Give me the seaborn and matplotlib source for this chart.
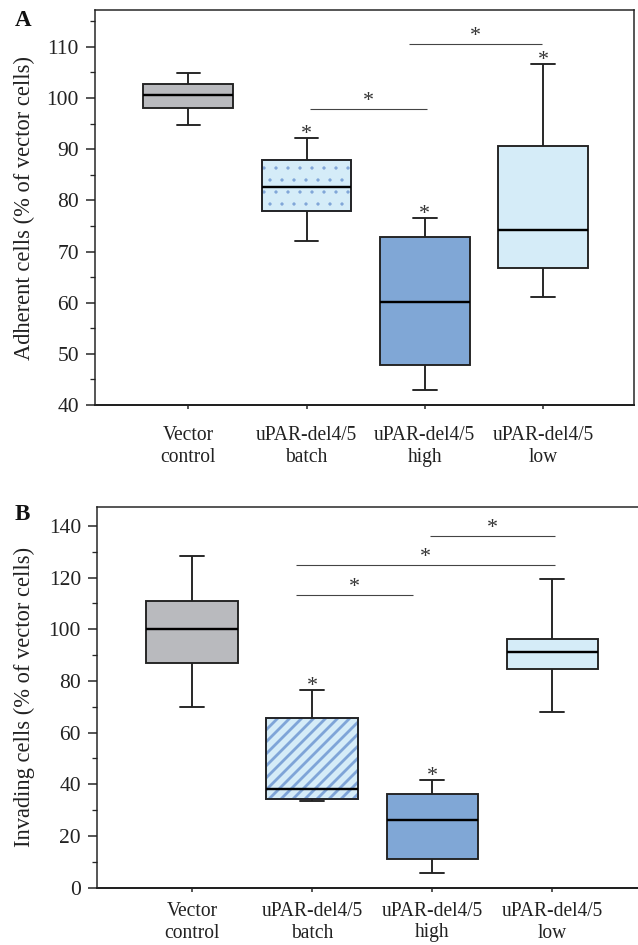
import numpy as np
import pandas as pd
import matplotlib
matplotlib.use("Agg")
import matplotlib.pyplot as plt
import seaborn as sns
from matplotlib.patches import PathPatch
from matplotlib.ticker import MultipleLocator

# ---------------- data (five-number summaries) ----------
groups = ["Vector\ncontrol", "uPAR-del4/5\nbatch", "uPAR-del4/5\nhigh", "uPAR-del4/5\nlow"]

# min, Q1, median, Q3, max
adh_vector = [94.8, 98.0, 100.5, 102.7, 104.9]
adh_batch = [72.1, 78.0, 82.7, 87.8, 92.2]
adh_high = [43.0, 47.8, 60.1, 72.9, 76.5]
adh_low = [61.2, 66.7, 74.3, 90.7, 106.7]

inv_vector = [70.0, 87.1, 100.1, 110.9, 128.4]
inv_batch = [33.6, 34.4, 38.1, 65.8, 76.5]
inv_high = [5.8, 11.1, 26.3, 36.4, 41.6]
inv_low = [67.9, 84.8, 91.2, 96.3, 119.6]

# significance brackets: (x_start, x_end, y)
adh_brackets = [(1.03, 2.02, 97.8), (1.87, 2.99, 110.6)]
inv_brackets = [(0.87, 1.84, 113.4), (0.87, 3.02, 124.8), (1.98, 3.02, 136.0)]
# groups with an asterisk over the upper whisker
adh_star_groups = [1, 2, 3]
inv_star_groups = [1, 2]

adh_label = "Adherent cells (% of vector cells)"
inv_label = "Invading cells (% of vector cells)"
adh_ticks = [40, 50, 60, 70, 80, 90, 100, 110]
inv_ticks = [0, 20, 40, 60, 80, 100, 120, 140]

box_colors = ["#b9babe", "#d5ecf8", "#80a7d6", "#d5ecf8"]
hatch_blue = "#7fa5d8"
edge = "#222222"

sns.set_theme(style="white")
plt.rcParams["font.family"] = ["Liberation Serif", "DejaVu Serif"]
plt.rcParams["hatch.linewidth"] = 2.6

W, H, DPI = 638, 945, 72
fig = plt.figure(figsize=(W / DPI, H / DPI), dpi=DPI)
fig.patch.set_facecolor("white")

ax_a = fig.add_axes([95 / W, 1 - 405 / H, (634 - 95) / W, (405 - 10) / H])
ax_b = fig.add_axes([97 / W, 1 - 887.7 / H, (645 - 97) / W, (887.7 - 506.7) / H])


def make_df(vals):
    rows = []
    for g, v in zip(groups, vals):
        for x in v:
            rows.append({"group": g, "value": x})
    return pd.DataFrame(rows)


def draw(ax, vals, ylim, ticks, minor, label, brackets, star_groups, hatch,
         hatch_lw, xpad, label_x):
    df = make_df(vals)
    sns.boxplot(data=df, x="group", y="value", hue="group", order=groups,
                hue_order=groups, palette=box_colors, saturation=1,
                whis=(0, 100), width=0.76, linewidth=1.9, linecolor=edge,
                showfliers=False, legend=False, ax=ax,
                medianprops={"color": "black", "linewidth": 2.4})
    # caps narrower
    for ln in ax.lines:
        xd = np.asarray(ln.get_xdata(), dtype=float)
        yd = np.asarray(ln.get_ydata(), dtype=float)
        if len(xd) == 2 and yd[0] == yd[1]:
            span = abs(xd[1] - xd[0])
            if span < 0.6:
                c = xd.mean()
                ln.set_xdata([c - 0.1, c + 0.1])
    # hatch on the batch box
    for p in list(ax.patches):
        ext = p.get_path().get_extents()
        cx = (ext.x0 + ext.x1) / 2
        if abs(cx - 1) < 0.2:
            p.set_hatch(hatch)
            p.set_edgecolor(hatch_blue)
            if hasattr(p, "set_hatch_linewidth"):
                p.set_hatch_linewidth(hatch_lw)
            ov = PathPatch(p.get_path(), transform=p.get_transform(),
                           fill=False, edgecolor=edge, linewidth=1.9,
                           zorder=p.get_zorder() + 0.05)
            ax.add_patch(ov)
    ax.set_xlim(-0.79, 3.77)
    ax.set_ylim(*ylim)
    ax.set_yticks(ticks)
    ax.yaxis.set_minor_locator(MultipleLocator(minor))
    ax.set_xlabel("")
    ax.set_ylabel(label, fontsize=22.5, color="#222")
    ax.yaxis.set_label_coords(label_x, 0.5)
    ax.tick_params(axis="y", which="major", direction="out", length=9,
                   width=1.5, pad=7, labelsize=21.5, colors="#222", left=True)
    ax.tick_params(axis="y", which="minor", direction="out", length=5,
                   width=1.3, left=True)
    ax.tick_params(axis="x", which="major", direction="out", length=4,
                   width=1.5, pad=xpad, labelsize=19.5, colors="#222", bottom=True)
    for lab in ax.get_xticklabels():
        lab.set_multialignment("center")
    for s in ax.spines.values():
        s.set_color("#222")
        s.set_linewidth(1.5)
    ax.spines["bottom"].set_linewidth(2.0)
    # brackets
    for x0, x1, y in brackets:
        ax.plot([x0, x1], [y, y], color="#444", lw=1.1, solid_capstyle="butt")
        ax.annotate("*", xy=((x0 + x1) / 2, y), xytext=(0, 3),
                    textcoords="offset points", ha="center", va="baseline",
                    fontsize=22, color="#333")
    for gi in star_groups:
        ax.annotate("*", xy=(gi, max(vals[gi])), xytext=(0, -1),
                    textcoords="offset points", ha="center", va="baseline",
                    fontsize=22, color="#333")


draw(ax_a, [adh_vector, adh_batch, adh_high, adh_low], (40, 117.2),
     adh_ticks, 5, adh_label, adh_brackets, adh_star_groups, ".", 0.8, 17,
     -0.111)
draw(ax_b, [inv_vector, inv_batch, inv_high, inv_low], (0, 147.4),
     inv_ticks, 10, inv_label, inv_brackets, inv_star_groups, "//", 2.8, 10,
     -0.113)
ax_b.spines["right"].set_visible(False)

fig.text(15 / W, 1 - 26 / H, "A", fontsize=23, fontweight="bold", va="baseline",
         color="#111")
fig.text(15 / W, 1 - 520 / H, "B", fontsize=23, fontweight="bold", va="baseline",
         color="#111")

fig.savefig("out.png", dpi=DPI, facecolor="white")
